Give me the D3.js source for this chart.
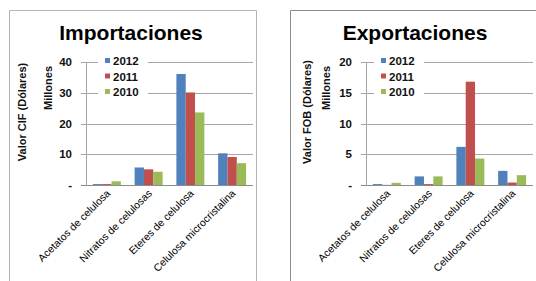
<!DOCTYPE html>
<html><head><meta charset="utf-8">
<script src="https://cdn.jsdelivr.net/npm/d3@7"></script>
<style>
html,body{margin:0;padding:0;background:#fff;}
svg{display:block;font-family:"Liberation Sans",Arial,sans-serif;}
</style></head>
<body>
<svg id="c" width="536" height="281"></svg>
<script>
const categories = ["Acetatos de celulosa","Nitratos de celulosas","Eteres de celulosa","Celulosa microcristalina"];
const years = ["2012","2011","2010"];
const colors = ["#4F81BD","#C0504D","#9BBB59"];
// Importaciones (millones de USD, CIF)
const imp2012 = [0.3, 5.7, 36.1, 10.3];
const imp2011 = [0.3, 5.1, 30.1, 9.1];
const imp2010 = [1.2, 4.3, 23.6, 7.1];
const impTicks = [0, 10, 20, 30, 40];
// Exportaciones (millones de USD, FOB)
const exp2012 = [0.15, 1.4, 6.2, 2.3];
const exp2011 = [0.02, 0.15, 16.8, 0.4];
const exp2010 = [0.35, 1.4, 4.3, 1.6];
const expTicks = [0, 5, 10, 15, 20];

const svg = d3.select("#c");

function drawChart(o){
  const g = svg.append("g");
  g.append("path")
    .attr("d", o.frame)
    .attr("fill","none").attr("stroke",o.frameColor).attr("stroke-width",1);

  g.append("text").attr("x",o.titleX).attr("y",40).attr("text-anchor","middle")
    .attr("font-size",21).attr("font-weight","bold").attr("fill","#000").text(o.title);

  const y = d3.scaleLinear().domain([0, o.ticks[o.ticks.length-1]]).range([185, 62]);
  const x = d3.scaleBand().domain(categories).range([o.axisX, o.axisX+167]).paddingInner(0.33).paddingOuter(0.165);
  const xs = d3.scaleBand().domain(years).range([0, x.bandwidth()]);

  o.ticks.forEach(t=>{
    if(t>0){
      g.append("line").attr("x1",o.axisX-5).attr("x2",o.axisX+167)
        .attr("y1",Math.round(y(t))+0.5).attr("y2",Math.round(y(t))+0.5)
        .attr("stroke","#a6a6a6").attr("stroke-width",1);
    }
    g.append("text").attr("x",o.axisX-14).attr("y",y(t)+4).attr("text-anchor","end")
      .attr("font-size",11.5).attr("font-weight","bold").attr("fill","#111")
      .text(t===0 ? "-" : t);
  });

  const series = o.series;
  categories.forEach((c,i)=>{
    years.forEach((yr,j)=>{
      const v = series[j][i];
      g.append("rect").attr("x",x(c)+xs(yr)).attr("width",xs.bandwidth())
        .attr("y",y(v)).attr("height",185-y(v)).attr("fill",colors[j]);
    });
  });

  g.append("line").attr("x1",o.axisX+0.5).attr("x2",o.axisX+0.5).attr("y1",62).attr("y2",185)
    .attr("stroke","#a6a6a6");
  g.append("line").attr("x1",o.axisX-5).attr("x2",o.axisX+167).attr("y1",185.5).attr("y2",185.5)
    .attr("stroke","#8c8c8c");

  categories.forEach(c=>{
    const cx = x(c)+x.bandwidth()/2 + 4;
    g.append("text").attr("transform",`translate(${cx},${194}) rotate(-45)`)
      .attr("text-anchor","end").attr("font-size",10.5).attr("fill","#000").text(c);
  });

  g.append("text").attr("transform",`translate(${o.ylabX},112) rotate(-90)`).attr("text-anchor","middle")
    .attr("font-size",11).attr("font-weight","bold").attr("fill","#111").text(o.ylabel);
  g.append("text").attr("transform",`translate(${o.milX},88) rotate(-90)`).attr("text-anchor","middle")
    .attr("font-size",11).attr("font-weight","bold").attr("fill","#111").text("Millones");

  g.append("rect").attr("x",o.legX-7).attr("y",54).attr("width",50).attr("height",44).attr("fill","#fff");
  years.forEach((yr,j)=>{
    const ly = 61 + j*15.5;
    g.append("rect").attr("x",o.legX).attr("y",ly-3).attr("width",5).attr("height",5).attr("fill",colors[j]);
    g.append("text").attr("x",o.legX+8).attr("y",ly+4).attr("font-size",11.5).attr("font-weight","bold")
      .attr("fill","#111").text(yr);
  });
}

drawChart({title:"Importaciones", titleX:131, axisX:86, ticks:impTicks, series:[imp2012,imp2011,imp2010],
  ylabel:"Valor CIF (Dólares)", ylabX:26, milX:52, legX:105,
  frame:"M9.5,281 V10.5 H256.5 V281", frameColor:"#b4b4b4"});
drawChart({title:"Exportaciones", titleX:415, axisX:366, ticks:expTicks, series:[exp2012,exp2011,exp2010],
  ylabel:"Valor FOB (Dólares)", ylabX:311, milX:330, legX:381,
  frame:"M290.5,281 V10.5 H536", frameColor:"#8c8c8c"});
</script>
</body></html>
